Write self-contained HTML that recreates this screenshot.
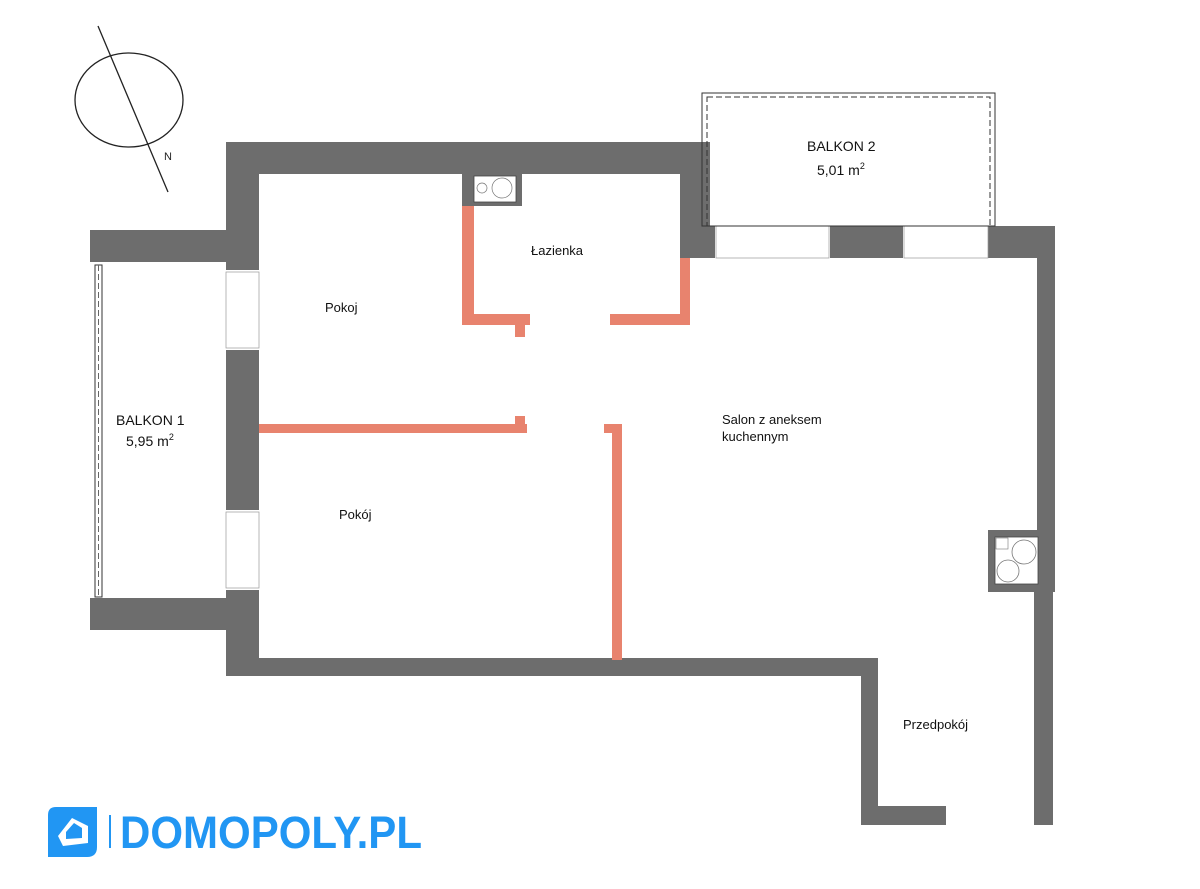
<!DOCTYPE html>
<html><head><meta charset="utf-8"><style>body{margin:0;background:#fff}svg{display:block}</style></head>
<body>
<svg width="1200" height="889" viewBox="0 0 1200 889" xmlns="http://www.w3.org/2000/svg" font-family="Liberation Sans, Arial, sans-serif">
<rect width="1200" height="889" fill="#fff"/>
<!-- compass -->
<ellipse cx="129" cy="100" rx="54" ry="47" fill="none" stroke="#222" stroke-width="1.3"/>
<line x1="98" y1="26" x2="168" y2="192" stroke="#222" stroke-width="1.3"/>
<text x="164" y="160" font-size="11" fill="#222">N</text>
<g fill="#6d6d6d">
<!-- left wall -->
<rect x="226" y="142" width="33" height="534"/>
<!-- top wall -->
<rect x="226" y="142" width="484" height="32"/>
<rect x="680" y="142" width="30" height="116"/>
<!-- salon top wall -->
<rect x="680" y="226" width="375" height="32"/>
<!-- right wall -->
<rect x="1037" y="226" width="18" height="366"/>
<rect x="1034" y="590" width="19" height="235"/>
<!-- chimney -->
<rect x="988" y="530" width="50" height="62"/>
<!-- bottom wall -->
<rect x="226" y="658" width="652" height="18"/>
<rect x="861" y="658" width="17" height="167"/>
<rect x="861" y="806" width="85" height="19"/>
<!-- balkon 1 walls -->
<rect x="90" y="230" width="136" height="32"/>
<rect x="90" y="598" width="136" height="32"/>
<!-- bathroom shaft -->
<rect x="462" y="174" width="60" height="32"/>
</g>
<!-- windows -->
<rect x="224" y="270" width="35" height="80" fill="#fff"/>
<rect x="224" y="510" width="35" height="80" fill="#fff"/>
<rect x="715" y="224" width="115" height="34" fill="#fff"/>
<rect x="903" y="224" width="85" height="34" fill="#fff"/>
<g stroke="#999" stroke-width="0.7" fill="none">
<rect x="226" y="272" width="33" height="76"/><rect x="226" y="512" width="33" height="76"/>
<rect x="716" y="226" width="113" height="32"/><rect x="904" y="226" width="84" height="32"/>
</g>
<!-- shafts -->
<rect x="474" y="176" width="42" height="26" fill="#fff" stroke="#444" stroke-width="0.8"/>
<circle cx="482" cy="188" r="5" fill="none" stroke="#777" stroke-width="0.7"/>
<circle cx="502" cy="188" r="10" fill="none" stroke="#777" stroke-width="0.7"/>
<rect x="995" y="537" width="43" height="47" fill="#fff" stroke="#444" stroke-width="0.8"/>
<circle cx="1024" cy="552" r="12" fill="none" stroke="#777" stroke-width="0.8"/>
<circle cx="1008" cy="571" r="11" fill="none" stroke="#777" stroke-width="0.8"/>
<rect x="996" y="538" width="12" height="11" fill="none" stroke="#777" stroke-width="0.6"/>
<!-- railings -->
<g fill="none" stroke="#333" stroke-width="1">
<rect x="702" y="93" width="293" height="133"/>
<rect x="707" y="97" width="283" height="129" stroke-dasharray="6 3"/>
<rect x="95" y="265" width="7" height="332"/>
<line x1="98.5" y1="265" x2="98.5" y2="597" stroke-dasharray="6 3" stroke="#666"/>
</g>
<!-- red walls -->
<g fill="#e8836e">
<rect x="462" y="206" width="12" height="119"/>
<rect x="462" y="314" width="68" height="11"/>
<rect x="515" y="314" width="10" height="23"/>
<rect x="610" y="314" width="80" height="11"/>
<rect x="680" y="258" width="10" height="67"/>
<rect x="259" y="424" width="268" height="9"/>
<rect x="515" y="416" width="10" height="17"/>
<rect x="612" y="424" width="10" height="236"/>
<rect x="604" y="424" width="18" height="9"/>
</g>
<!-- labels -->
<g fill="#111" font-size="13">
<text x="325" y="312">Pokoj</text>
<text x="531" y="255">Łazienka</text>
<text x="722" y="424">Salon z aneksem</text>
<text x="722" y="441">kuchennym</text>
<text x="339" y="519">Pokój</text>
<text x="903" y="729">Przedpokój</text>
<text x="116" y="425" font-size="14">BALKON 1</text>
<text x="126" y="446" font-size="14">5,95 m<tspan font-size="9" dy="-6">2</tspan></text>
<text x="807" y="151" font-size="14">BALKON 2</text>
<text x="817" y="175" font-size="14">5,01 m<tspan font-size="9" dy="-6">2</tspan></text>
</g>
<!-- logo -->
<path d="M56 807 H97 V847 Q97 857 87 857 H48 V815 Q48 807 56 807 Z" fill="#2196f3"/>
<path d="M58 836 L72 818 L88 826 L88 843 L63 846 Z M66 839 L66 832 L74 823 L82 828 L82 838 Z" fill="#fff" fill-rule="evenodd"/>
<rect x="109" y="815" width="2" height="33" fill="#2196f3"/>
<text x="120" y="848" font-size="45" font-weight="bold" fill="#2196f3" textLength="302" lengthAdjust="spacingAndGlyphs">DOMOPOLY.PL</text>
</svg>
</body></html>
